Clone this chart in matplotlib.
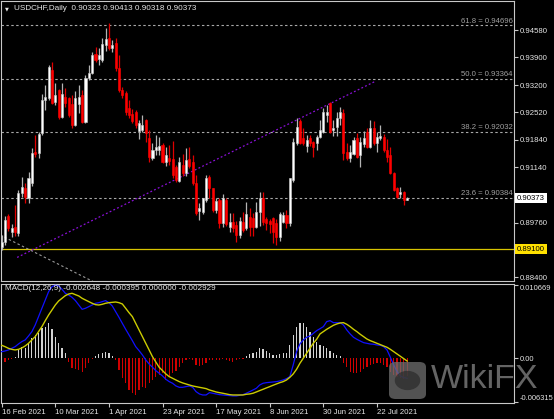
import matplotlib
matplotlib.use('Agg')
import matplotlib.pyplot as plt
import matplotlib.transforms as mtrans
from matplotlib.patches import FancyBboxPatch, Circle
import numpy as np
import pandas as pd

symbol_title = "USDCHF,Daily  0.90323 0.90413 0.90318 0.90373"
macd_title = "MACD(12,26,9) -0.002648 -0.000395 0.000000 -0.002929"
first_date = "2021-02-16"

opens = [.89159,.89284,.89926,.89534,.89659,.89492,.90493,.90618,.90368,.90743,
         .91536,.91494,.91995,.92828,.92870,.93579,.92770,.93078,.92411,.92912,
         .92870,.92720,.92203,.92720,.92954,.92270,.93371,.93496,.93971,.93846,
         .93829,.94204,.94371,.94121,.94246,.93621,.93078,.92995,.92620,.92470,
         .92536,.92053,.92078,.92328,.91869,.91369,.91577,.91577,.91703,.91285,
         .91369,.91352,.91160,.90810,.91202,.90993,.91352,.91285,.90743,.90051,
         .90035,.90326,.90893,.90618,.90076,.90326,.89743,.90326,.89659,.89768,
         .89701,.89451,.89784,.89617,.89909,.89868,.89659,.90035,.90385,.89851,
         .89801,.89868,.89743,.89409,.89784,.89951,.89743,.90827,.91744,.92303,
         .91869,.91686,.91869,.91786,.91744,.91911,.92036,.92453,.92745,.92069,
         .92161,.92370,.92495,.91536,.91386,.91469,.91869,.91452,.91719,.92036,
         .91661,.92119,.91744,.91869,.91911,.91577,.91452,.90993,.90635,.90468,
         .90535,.90323]
highs = [.89451,.89926,.89968,.89717,.90201,.90577,.90910,.90743,.91035,.91619,
         .91953,.92036,.92970,.93204,.93704,.93787,.93245,.93103,.93245,.93137,
         .92912,.92954,.93053,.93204,.93078,.93454,.93704,.94038,.94163,.94121,
         .94371,.94621,.94747,.94330,.94388,.93954,.93162,.93053,.92828,.92603,
         .92578,.92328,.92453,.92353,.92078,.91744,.91953,.91911,.91744,.91661,
         .91703,.91803,.91202,.91411,.91469,.91619,.91661,.91452,.90952,.90243,
         .90385,.90952,.90952,.90635,.90368,.90368,.90468,.90368,.89993,.89993,
         .89801,.89909,.90035,.90285,.90118,.89993,.90285,.90535,.90535,.89909,
         .89851,.89909,.89851,.90035,.90018,.90076,.90885,.91886,.92370,.92353,
         .92119,.91953,.91953,.91803,.91953,.92328,.92620,.92703,.92770,.92328,
         .92536,.92662,.92603,.91744,.91703,.91911,.91995,.91911,.92053,.92119,
         .92328,.92303,.92036,.92203,.91970,.91853,.91661,.91018,.90660,.90660,
         .90552,.90413]
lows = [.89075,.89200,.89551,.89409,.89434,.89434,.90410,.90243,.90243,.90685,
        .91411,.91386,.91953,.92578,.92828,.92720,.92703,.92353,.92370,.92662,
        .92411,.92119,.92186,.92495,.92245,.92245,.93329,.93471,.93787,.93704,
        .93787,.94054,.94079,.94038,.93554,.93020,.92887,.92453,.92370,.92245,
        .92119,.91853,.92036,.91786,.91285,.91327,.91452,.91452,.91244,.91185,
        .91202,.90868,.90785,.90785,.90935,.90935,.91119,.90702,.89951,.89826,
        .89968,.90285,.90368,.90035,.89993,.89617,.89659,.89684,.89534,.89534,
        .89267,.89384,.89534,.89576,.89434,.89434,.89617,.89684,.89701,.89576,
        .89492,.89242,.89200,.89301,.89743,.89617,.89684,.90785,.91703,.91719,
        .91703,.91536,.91686,.91411,.91577,.91869,.91995,.92286,.91995,.91936,
        .91936,.92203,.91327,.91327,.91285,.91452,.91386,.91160,.91661,.91636,
        .91636,.91703,.91536,.91828,.91536,.91285,.90968,.90552,.90385,.90368,
        .90201,.90318]
closes = [.89284,.89826,.89617,.89617,.89534,.90493,.90643,.90410,.90868,.91494,
          .91469,.91978,.92828,.92912,.93662,.92745,.92954,.92411,.92979,.92745,
          .92453,.92203,.92870,.92912,.92286,.93371,.93496,.93954,.93829,.93954,
          .94221,.94355,.94121,.94204,.93621,.93078,.92954,.92536,.92453,.92303,
          .92203,.92245,.92203,.91995,.91411,.91577,.91661,.91686,.91285,.91452,
          .91302,.90952,.90827,.91285,.90993,.91327,.91185,.90743,.89993,.90134,
          .90368,.90885,.90618,.90076,.90301,.89743,.90368,.89717,.89784,.89617,
          .89451,.89801,.89576,.89968,.89659,.89659,.90035,.90385,.89768,.89743,
          .89717,.89534,.89409,.89968,.89951,.89743,.90868,.91786,.92161,.91744,
          .91744,.91828,.91744,.91661,.91911,.92078,.92520,.92536,.92036,.92119,
          .92386,.92536,.91494,.91369,.91519,.91828,.91411,.91786,.91886,.91661,
          .92119,.91744,.91911,.91928,.91577,.91411,.90993,.90577,.90410,.90535,
          .90326,.90373]

macd_main = [0.00097,0.00107,0.00122,0.00146,0.00170,0.00209,0.00244,0.00268,0.00326,0.00390,
             0.00487,0.00609,0.00731,0.00852,0.00974,0.01047,0.010669,0.01057,0.01008,0.00950,
             0.00925,0.00891,0.00843,0.00779,0.00716,0.00731,0.00755,0.00779,0.00804,0.00813,
             0.00828,0.00843,0.00813,0.00765,0.00682,0.00599,0.00511,0.00424,0.00341,0.00258,
             0.00170,0.00112,0.00049,-0.00024,-0.00083,-0.00131,-0.00180,-0.00219,-0.00258,-0.00307,
             -0.00341,-0.00365,-0.00404,-0.00424,-0.00424,-0.00414,-0.00404,-0.00424,-0.00487,-0.00521,
             -0.00536,-0.00536,-0.00502,-0.00511,-0.00521,-0.00531,-0.00536,-0.00541,-0.00545,-0.00550,
             -0.00550,-0.00541,-0.00531,-0.00511,-0.00487,-0.00463,-0.00438,-0.00390,-0.00365,-0.00356,
             -0.00351,-0.00346,-0.00341,-0.00331,-0.00317,-0.00297,-0.00268,-0.00097,0.00097,0.00209,
             0.00268,0.00307,0.00326,0.00365,0.00404,0.00433,0.00463,0.00536,0.00550,0.00521,
             0.00521,0.00521,0.00487,0.00414,0.00356,0.00307,0.00278,0.00253,0.00229,0.00219,
             0.00209,0.00205,0.00195,0.00190,0.00170,0.00122,0.00015,-0.00097,-0.00195,-0.00258,
             -0.00282,-0.002929]
macd_signal = [0.00190,0.00170,0.00146,0.00131,0.00122,0.00131,0.00151,0.00180,0.00219,0.00268,
               0.00317,0.00390,0.00463,0.00550,0.00633,0.00706,0.00779,0.00838,0.00877,0.00916,
               0.00940,0.00950,0.00930,0.00911,0.00877,0.00852,0.00828,0.00804,0.00784,0.00779,
               0.00789,0.00804,0.00813,0.00818,0.00823,0.00813,0.00794,0.00731,0.00667,0.00609,
               0.00511,0.00414,0.00317,0.00219,0.00122,0.00024,-0.00054,-0.00131,-0.00180,-0.00229,
               -0.00268,-0.00292,-0.00317,-0.00341,-0.00360,-0.00375,-0.00390,-0.00404,-0.00414,-0.00424,
               -0.00433,-0.00443,-0.00463,-0.00477,-0.00492,-0.00502,-0.00511,-0.00521,-0.00531,-0.00536,
               -0.00536,-0.00536,-0.00536,-0.00526,-0.00521,-0.00511,-0.00492,-0.00472,-0.00453,-0.00433,
               -0.00414,-0.00394,-0.00375,-0.00356,-0.00341,-0.00317,-0.00278,-0.00229,-0.00161,-0.00073,
               0.00000,0.00073,0.00146,0.00219,0.00278,0.00356,0.00390,0.00424,0.00453,0.00482,
               0.00502,0.00516,0.00521,0.00497,0.00463,0.00424,0.00390,0.00351,0.00317,0.00282,
               0.00258,0.00239,0.00219,0.00200,0.00180,0.00161,0.00131,0.00097,0.00063,0.00029,
               -0.00005,-0.000395]
macd_hist = [-0.00131,-0.00049,-0.00024,-0.00005,0.00015,0.00122,0.00170,0.00146,0.00219,0.00292,
             0.00341,0.00365,0.00438,0.00463,0.00521,0.00424,0.00317,0.00219,0.00146,0.00073,
             -0.00049,-0.00146,-0.00161,-0.00170,-0.00195,-0.00146,-0.00073,-0.00005,0.00034,0.00063,
             0.00083,0.00097,0.00073,0.00034,-0.00024,-0.00170,-0.00292,-0.00365,-0.00463,-0.00511,
             -0.00536,-0.00463,-0.00414,-0.00438,-0.00365,-0.00317,-0.00268,-0.00244,-0.00219,-0.00317,
             -0.00268,-0.00209,-0.00180,-0.00122,-0.00073,-0.00024,-0.00015,-0.00024,-0.00097,-0.00112,
             -0.00097,-0.00063,-0.00024,-0.00024,-0.00024,-0.00024,-0.00005,-0.00024,-0.00034,-0.00049,
             -0.00024,-0.00015,-0.00005,0.00034,0.00063,0.00083,0.00097,0.00146,0.00131,0.00112,
             0.00083,0.00049,0.00049,0.00063,0.00073,0.00073,0.00195,0.00341,0.00463,0.00511,
             0.00511,0.00463,0.00389,0.00317,0.00244,0.00195,0.00180,0.00146,0.00112,0.00073,
             0.00049,0.00034,-0.00063,-0.00131,-0.00195,-0.00209,-0.00219,-0.00195,-0.00161,-0.00122,
             -0.00097,-0.00083,-0.00073,-0.00073,-0.00097,-0.00122,-0.00195,-0.00244,-0.00278,-0.00292,
             -0.00307,-0.002648]

date_labels = ["16 Feb 2021", "10 Mar 2021", "1 Apr 2021", "23 Apr 2021",
               "17 May 2021", "8 Jun 2021", "30 Jun 2021", "22 Jul 2021"]
price_ticks = [0.94580, 0.93900, 0.93200, 0.92520, 0.91840, 0.91140,
               0.90460, 0.89760, 0.89080, 0.88400]
hidden_ticks = [0.90460, 0.89080]
fib_pcts = ["61.8", "50.0", "38.2", "23.6"]
fib_levels = [0.94696, 0.93364, 0.92032, 0.90384]
support_level = 0.89100
last_price = 0.90373
macd_ticks = [0.010669, 0.0, -0.006315]
trend_bars = [4.6, 111.7]
trend_prices = [0.88890, 0.93304]
fib_diag_bars = [-0.5, 30.0]
fib_diag_prices = [0.89451, 0.88173]

W, H = 554, 419
fig = plt.figure(figsize=(W / 100, H / 100), dpi=100, facecolor='black')
FONT = 'Liberation Sans'
FS = 5.6
TXT = '#E6E6E6'
FRAME = '#C8C8C8'


def px_axes(l, t, r, b):
    return fig.add_axes([l / W, 1 - b / H, (r - l) / W, (b - t) / H])


ax = px_axes(1, 1, 514, 281)
axm = px_axes(1, 284, 514, 403)
n = len(closes)
x = np.arange(n)
dates = pd.bdate_range(first_date, periods=n)
xlim = (-0.21, 152.9)

for a in (ax, axm):
    a.set_facecolor('black')
    for s in a.spines.values():
        s.set_color(FRAME)
        s.set_linewidth(0.8)
    a.set_xlim(*xlim)

# ---- main price panel
ax.set_ylim(0.88300, 0.95306)
for lvl in fib_levels:
    ax.axhline(lvl, color='#A8A8A8', lw=0.8, ls=(0, (2.2, 2.2)), zorder=1)
blend = mtrans.blended_transform_factory(ax.transAxes, ax.transData)
for pct, lvl in zip(fib_pcts, fib_levels):
    ax.text(0.997, lvl + 0.00012, f"{pct} = {lvl:.5f}", transform=blend,
            ha='right', va='bottom', fontsize=FS, color='#A0A0A0', family=FONT)
ax.axhline(support_level, color='#D8C400', lw=0.9, zorder=1)
ax.plot(fib_diag_bars, fib_diag_prices, color='#9A9A9A', lw=0.8, ls=(0, (2.2, 2.2)), zorder=1)
ax.plot(trend_bars, trend_prices, color='#8A10D8', lw=0.9, ls=(0, (1.5, 1.8)), zorder=1)

o = np.array(opens); h = np.array(highs); l = np.array(lows); c = np.array(closes)
up = c >= o
ax.vlines(x[up], l[up], h[up], color='#B4B4B4', lw=0.9, zorder=2)
ax.vlines(x[~up], l[~up], h[~up], color='#E00000', lw=0.9, zorder=2)
body_lo = np.minimum(o, c)
body_h = np.maximum(np.abs(c - o), 0.00006)
ax.bar(x[up], body_h[up], bottom=body_lo[up], width=0.62, color='white',
       edgecolor='#C8C8C8', linewidth=0.4, zorder=3)
ax.bar(x[~up], body_h[~up], bottom=body_lo[~up], width=0.62, color='#FF0000',
       edgecolor='#FF0000', linewidth=0.4, zorder=3)

ax.set_xticks([])
ax.yaxis.tick_right()
ax.set_yticks(price_ticks)
ax.set_yticklabels(["" if t in hidden_ticks else f"{t:.5f}" for t in price_ticks])
ax.tick_params(axis='y', colors=FRAME, labelcolor=TXT, length=3, width=0.8,
               labelsize=FS, pad=1.5)
for lab in ax.get_yticklabels():
    lab.set_family(FONT)

ax.text(1.006, support_level, f"{support_level:.5f}", transform=blend,
        ha='left', va='center', fontsize=FS, color='black', family=FONT, zorder=10,
        clip_on=False, bbox=dict(boxstyle='square,pad=0.22', fc='#FFE000', ec='none'))
ax.text(1.006, last_price, f"{last_price:.5f}", transform=blend,
        ha='left', va='center', fontsize=FS, color='black', family=FONT, zorder=10,
        clip_on=False, bbox=dict(boxstyle='square,pad=0.22', fc='white', ec='none'))

ax.text(4 / 513, 1 - 8 / 280, "\u25BC", transform=ax.transAxes, fontsize=3.6,
        color=TXT, va='center', ha='left', family='DejaVu Sans')
ax.text(13.5 / 513, 1 - 8 / 280, symbol_title, transform=ax.transAxes, fontsize=FS + 0.3,
        color=TXT, va='center', ha='left', family=FONT)

# ---- MACD panel
axm.set_ylim(-0.006533, 0.010859)
hist = np.array(macd_hist)
hcol = np.where(hist >= 0, '#D2D2D2', '#D00000')
axm.bar(x, hist, width=0.36, color=hcol, linewidth=0, zorder=2)
axm.plot(x, macd_main, color='#1010FF', lw=0.9, zorder=3)
axm.plot(x, macd_signal, color='#CCCC00', lw=1.0, zorder=3)
axm.text(4 / 513, 1 - 5 / 119, macd_title, transform=axm.transAxes, fontsize=FS + 0.3,
         color=TXT, va='center', ha='left', family=FONT, zorder=5)

axm.yaxis.tick_right()
axm.set_yticks(macd_ticks)
axm.set_yticklabels(["0.010669", "0.00", "-0.006315"])
axm.tick_params(axis='y', colors=FRAME, labelcolor=TXT, length=3, width=0.8,
                labelsize=FS - 0.2, pad=0.8)
ylabs = axm.get_yticklabels()
ylabs[0].set_va('top')
ylabs[2].set_va('bottom')
for lab in ylabs:
    lab.set_family(FONT)

date_pos = [int(np.where(dates == pd.to_datetime(s, format="%d %b %Y"))[0][0])
            for s in date_labels]
axm.set_xticks(date_pos)
axm.set_xticklabels(date_labels, ha='left')
axm.tick_params(axis='x', colors=FRAME, labelcolor=TXT, length=3, width=0.8,
                labelsize=FS, pad=1.5)
for lab in axm.get_xticklabels():
    lab.set_family(FONT)

# ---- watermark
logo = FancyBboxPatch((389 / W, 1 - 399 / H), 37 / W, 37 / H,
                      boxstyle='round,pad=0,rounding_size=0.012',
                      transform=fig.transFigure, fc='#707070', ec='none', alpha=0.75, zorder=20)
fig.patches.append(logo)
circ = Circle((407.5 / W, 1 - 380.5 / H), 0.023, transform=fig.transFigure,
              fc='#2a2a2a', ec='none', alpha=0.7, zorder=21)
fig.patches.append(circ)
fig.text(431 / W, 1 - 379 / H, "WikiFX", fontsize=24.5, color='#777777', alpha=0.85,
         family=FONT, va='center', ha='left', zorder=22)

fig.savefig('out.png', dpi=100, facecolor='black')
